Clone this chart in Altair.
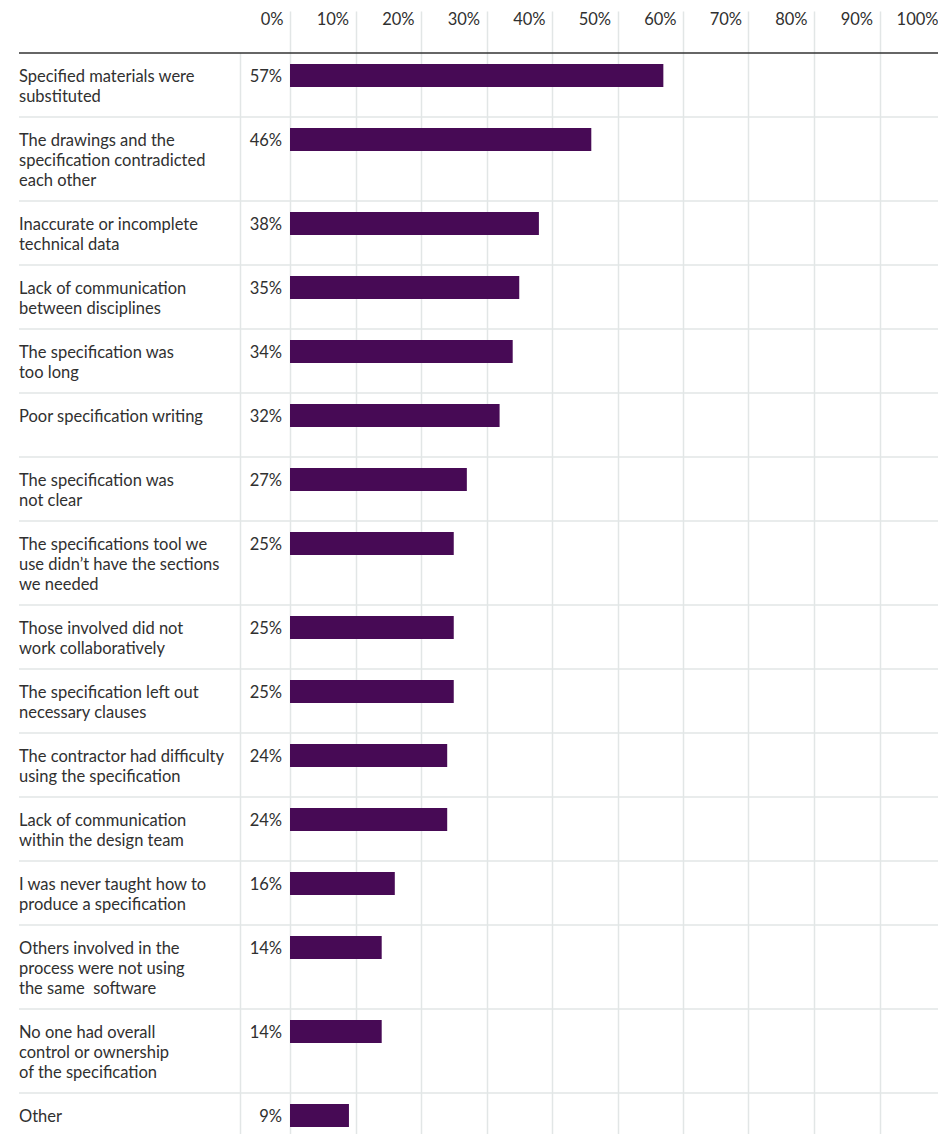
import altair as alt
import pandas as pd

# ---- data ----
categories = [
    "Specified materials were\nsubstituted",
    "The drawings and the\nspecification contradicted\neach other",
    "Inaccurate or incomplete\ntechnical data",
    "Lack of communication\nbetween disciplines",
    "The specification was\ntoo long",
    "Poor specification writing",
    "The specification was\nnot clear",
    "The specifications tool we\nuse didn\u2019t have the sections\nwe needed",
    "Those involved did not\nwork collaboratively",
    "The specification left out\nnecessary clauses",
    "The contractor had difficulty\nusing the specification",
    "Lack of communication\nwithin the design team",
    "I was never taught how to\nproduce a specification",
    "Others involved in the\nprocess were not using\nthe same\u00a0 software",
    "No one had overall\ncontrol or ownership\nof the specification",
    "Other",
]
values = [57, 46, 38, 35, 34, 32, 27, 25, 25, 25, 24, 24, 16, 14, 14, 9]
tick_values = [0, 10, 20, 30, 40, 50, 60, 70, 80, 90, 100]

# ---- layout (pixel-like units on the y scale) ----
VIEW_W, VIEW_H = 648, 1123
PAD_LEFT, PAD_TOP = 290, 11
FIRST_ROW = 42
LINE_H = 20

rows = []
top = FIRST_ROW
for cat, v in zip(categories, values):
    n = cat.count("\n") + 1
    h = 24 + LINE_H * max(2, n)
    rows.append(dict(label=cat, value=v, zero=0, vtext=f"{v}%", top=top, bottom=top + h,
                     bar_y=top + 11, bar_y2=top + 34, text_y=top + 28.5))
    top += h
df = pd.DataFrame(rows)
top_line = pd.DataFrame({"y": [FIRST_ROW], "yend": [VIEW_H]})

FONT = "Lato"
FS = 16.5
TXT = "#303030"
GRID = "#e2e6e6"

xscale = alt.Scale(domain=[0, 100], range=[0, 655], nice=False, zero=True)
yscale = alt.Scale(domain=[0, VIEW_H], reverse=True, nice=False, zero=False)

base = alt.Chart(df)

bars = base.mark_rect(color="#470a55").encode(
    x=alt.X("zero:Q", scale=xscale, title=None,
            axis=alt.Axis(orient="top", values=tick_values, labelExpr="datum.value + '%'",
                          domain=False, ticks=False, tickSize=0, labelPadding=-13,
                          labelBaseline="alphabetic", labelAlign="right", labelOffset=-7,
                          labelFlush=False, labelOverlap=False, labelBound=False,
                          labelFont=FONT, labelFontSize=FS, labelColor=TXT,
                          grid=True, gridColor=GRID, gridWidth=1.5)),
    x2="value:Q",
    y=alt.Y("bar_y:Q", scale=yscale, axis=None),
    y2="bar_y2:Q",
)

seps = base.mark_rule(color=GRID, strokeWidth=1.5).encode(
    x=alt.value(-271), x2=alt.value(VIEW_W),
    y=alt.Y("bottom:Q", scale=yscale, axis=None),
)

topline = alt.Chart(top_line).mark_rule(color="#333333", strokeWidth=1.3).encode(
    x=alt.value(-271), x2=alt.value(VIEW_W),
    y=alt.Y("y:Q", scale=yscale, axis=None),
)

vline = alt.Chart(top_line).mark_rule(color=GRID, strokeWidth=1.5).encode(
    x=alt.value(-49.5),
    y=alt.Y("y:Q", scale=yscale, axis=None), y2="yend:Q",
)

cat_text = base.mark_text(align="left", baseline="alphabetic", font=FONT, fontSize=FS,
                          color=TXT, lineBreak="\n", lineHeight=LINE_H).encode(
    x=alt.value(-271),
    y=alt.Y("text_y:Q", scale=yscale, axis=None),
    text="label:N",
)

val_text = base.mark_text(align="right", baseline="alphabetic", font=FONT, fontSize=FS,
                          color=TXT, dx=-8).encode(
    x=alt.value(0),
    y=alt.Y("text_y:Q", scale=yscale, axis=None),
    text="vtext:N",
)

chart = alt.layer(seps, vline, bars, topline, cat_text, val_text).properties(
    width=VIEW_W, height=VIEW_H,
    autosize=alt.AutoSizeParams(type="none"),
    padding={"left": PAD_LEFT, "top": PAD_TOP, "right": 0, "bottom": 0},
    background="white",
).configure_view(stroke="transparent")

chart.save("out.html", embed_options={"renderer": "svg", "actions": False})
